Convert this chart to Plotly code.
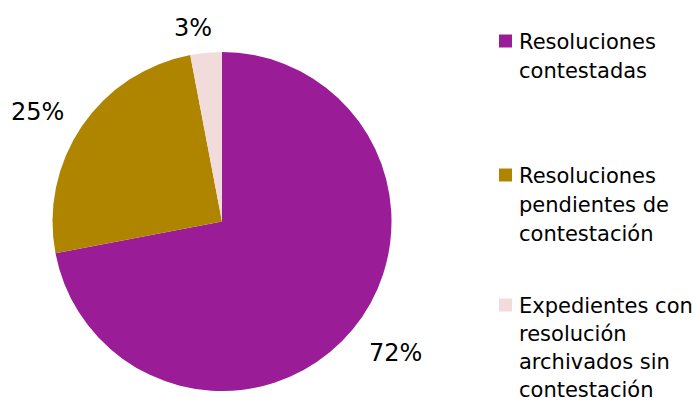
import plotly.graph_objects as go

# Data
categories = [
    "Resoluciones<br>contestadas",
    "Resoluciones<br>pendientes de<br>contestación",
    "Expedientes con<br>resolución<br>archivados sin<br>contestación",
]
values = [72, 25, 3]
colors = ["#9A1C97", "#AF8500", "#F2DCDB"]

W, H = 693, 403
FONT = "DejaVu Sans"


def px_x(x):
    return x / W


def px_y(y):
    return 1 - y / H


fig = go.Figure(
    go.Pie(
        labels=[c.replace("<br>", " ") for c in categories],
        values=values,
        sort=False,
        direction="clockwise",
        rotation=0,
        marker=dict(colors=colors, line=dict(width=0)),
        textinfo="none",
        hoverinfo="label+percent",
        domain=dict(x=[px_x(52), px_x(392)], y=[px_y(391), px_y(52)]),
        showlegend=False,
    )
)

# Percentage labels outside the slices
pct_pos = [(395, 353), (37, 112), (193, 28)]
annotations = []
for v, (x, y) in zip(values, pct_pos):
    annotations.append(dict(
        x=px_x(x), y=px_y(y), xref="paper", yref="paper",
        text=f"{v}%", showarrow=False, xanchor="center", yanchor="middle",
        font=dict(family=FONT, size=24, color="#000000"),
    ))

# Legend: coloured squares and wrapped labels
legend_top = [49, 183, 313]   # baseline of first line
line_gaps = [29, 29, 28]
shapes = []
for cat, col, base, gap in zip(categories, colors, legend_top, line_gaps):
    sq_c = base - 8
    shapes.append(dict(
        type="rect", xref="paper", yref="paper",
        x0=px_x(499), x1=px_x(512), y0=px_y(sq_c + 6.5), y1=px_y(sq_c - 6.5),
        fillcolor=col, line=dict(width=0),
    ))
    for i, line in enumerate(cat.split("<br>")):
        b = base + i * gap
        annotations.append(dict(
            x=px_x(517), y=px_y(b - 7), xref="paper", yref="paper",
            text=line, showarrow=False, xanchor="left", yanchor="middle",
            font=dict(family=FONT, size=21, color="#000000"),
        ))

fig.update_layout(
    width=W, height=H,
    margin=dict(l=0, r=0, t=0, b=0),
    paper_bgcolor="white", plot_bgcolor="white",
    annotations=annotations, shapes=shapes,
)

fig.write_html("out.html")
